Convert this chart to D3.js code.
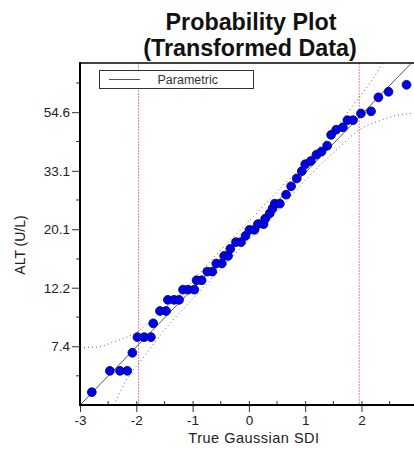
<!DOCTYPE html>
<html>
<head>
<meta charset="utf-8">
<script src="https://cdn.jsdelivr.net/npm/d3@7"></script>
<style>
  body { margin: 0; background: #fff; }
  text { font-family: "Liberation Sans", Arial, sans-serif; }
</style>
</head>
<body>
<div id="chart"></div>
<script>
// observed points: x = true gaussian SDI, y = ALT (U/L)
const sdi = [-2.79, -2.47, -2.29, -2.16, -2.07, -1.98, -1.86, -1.74, -1.70, -1.58,
  -1.47, -1.44, -1.33, -1.24, -1.17, -1.08, -0.97, -0.93, -0.84, -0.74,
  -0.65, -0.58, -0.48, -0.44, -0.37, -0.33, -0.23, -0.14, -0.06, 0.01,
  0.10, 0.16, 0.26, 0.29, 0.37, 0.42, 0.46, 0.55, 0.66, 0.75,
  0.85, 0.94, 1.00, 1.10, 1.20, 1.29, 1.39, 1.46, 1.55, 1.67,
  1.75, 1.85, 1.99, 2.17, 2.30, 2.48, 2.80];
const alt = [5, 6, 6, 6, 7, 8, 8, 8, 9, 10,
  10, 11, 11, 11, 12, 12, 12, 13, 13, 14,
  14, 15, 15, 16, 16, 17, 18, 18, 19, 20,
  20, 21, 21, 22, 23, 24, 25, 25, 27, 29,
  31, 33, 35, 36, 38, 39, 41, 45, 47, 48,
  51, 51, 54, 55, 62, 65, 69];

// parametric fit line
const fitSdi = [-3, 3];
const fitAlt = [4.48, 87.9];

// confidence band (dotted curves)
const upperSdi = [-3.0, -2.7, -2.4, -2.0, -1.6, -1.1, -0.55, 0, 0.5, 1.0, 1.5, 1.85, 2.18, 2.4];
const upperAlt = [7.32, 7.35, 7.69, 8.33, 9.78, 12.3, 16.4, 21.5, 27.7, 35.5, 46.5, 58.0, 71.5, 84.8];
const lowerSdi = [-2.4, -2.18, -1.85, -1.5, -1.0, -0.5, 0, 0.55, 1.1, 1.6, 2.0, 2.4, 2.7, 3.0];
const lowerAlt = [4.48, 5.53, 6.82, 8.50, 11.1, 14.3, 18.4, 24.0, 32.1, 40.4, 47.5, 51.4, 53.5, 54.1];

const refSdi = [-1.96, 1.96];

const xTicks = [-3, -2, -1, 0, 1, 2];
const xMinor = [-2.5, -1.5, -0.5, 0.5, 1.5, 2.5];
const yTicks = [7.4, 12.2, 20.1, 33.1, 54.6];
const yMinor = [5.75, 9.49, 15.6, 25.8, 42.5, 70.1];

const width = 414, height = 449;
const plotLeft = 80, plotTop = 63, plotBottom = 405;

const svg = d3.select('#chart').append('svg')
  .attr('width', width)
  .attr('height', height);

const x = d3.scaleLinear().domain([-3, 3]).range([plotLeft, plotLeft + 6 * 56.3]);
const y = d3.scaleLog().domain([4.4817, 83.1]).range([plotBottom, plotTop]);

svg.append('clipPath').attr('id', 'plot')
  .append('rect')
  .attr('x', plotLeft).attr('y', plotTop)
  .attr('width', width - plotLeft).attr('height', plotBottom - plotTop);

const plot = svg.append('g').attr('clip-path', 'url(#plot)');

// reference lines at +-1.96
plot.selectAll('.ref')
  .data(refSdi)
  .enter()
  .append('line')
  .attr('x1', d => x(d)).attr('x2', d => x(d))
  .attr('y1', plotTop).attr('y2', plotBottom)
  .attr('stroke', '#f08080')
  .attr('stroke-width', 1)
  .attr('stroke-dasharray', '2,1');

const line = d3.line()
  .x(d => x(d[0]))
  .y(d => y(d[1]))
  .curve(d3.curveMonotoneX);

plot.append('path')
  .datum(d3.zip(upperSdi, upperAlt))
  .attr('d', line)
  .attr('fill', 'none')
  .attr('stroke', '#666')
  .attr('stroke-dasharray', '1,3');

plot.append('path')
  .datum(d3.zip(lowerSdi, lowerAlt))
  .attr('d', line)
  .attr('fill', 'none')
  .attr('stroke', '#666')
  .attr('stroke-dasharray', '1,3');

plot.append('path')
  .datum(d3.zip(fitSdi, fitAlt))
  .attr('d', d3.line().x(d => x(d[0])).y(d => y(d[1])))
  .attr('fill', 'none')
  .attr('stroke', '#555')
  .attr('stroke-width', 1);

plot.selectAll('.pt')
  .data(d3.zip(sdi, alt))
  .enter()
  .append('circle')
  .attr('cx', d => x(d[0]))
  .attr('cy', d => y(d[1]))
  .attr('r', 4.4)
  .attr('fill', '#0000f0')
  .attr('stroke', '#000050')
  .attr('stroke-width', 0.8);

// axes
const xAxis = d3.axisBottom(x).tickValues(xTicks).tickSize(7).tickPadding(3).tickFormat(d => String(d));
const gx = svg.append('g')
  .attr('transform', `translate(0, ${plotBottom})`)
  .call(xAxis);
gx.select('.domain').remove();
gx.selectAll('.tick line').attr('y1', -4).attr('stroke', '#333');
gx.selectAll('.tick text').attr('font-size', 13.5).attr('fill', '#222')
  .attr('font-family', '"Liberation Sans", Arial, sans-serif');

svg.selectAll('.xminor')
  .data(xMinor)
  .enter()
  .append('line')
  .attr('x1', d => x(d)).attr('x2', d => x(d))
  .attr('y1', plotBottom - 4).attr('y2', plotBottom)
  .attr('stroke', '#333');

const yAxis = d3.axisLeft(y).tickValues(yTicks).tickSize(8).tickPadding(2).tickFormat(d3.format('.1f'));
const gy = svg.append('g')
  .attr('transform', `translate(${plotLeft}, 0)`)
  .call(yAxis);
gy.select('.domain').remove();
gy.selectAll('.tick line').attr('stroke', '#333');
gy.selectAll('.tick text').attr('font-size', 13.5).attr('fill', '#222')
  .attr('font-family', '"Liberation Sans", Arial, sans-serif');

svg.selectAll('.yminor')
  .data(yMinor)
  .enter()
  .append('line')
  .attr('x1', plotLeft - 4).attr('x2', plotLeft)
  .attr('y1', d => y(d)).attr('y2', d => y(d))
  .attr('stroke', '#333');

// frame lines
svg.append('line').attr('x1', plotLeft).attr('x2', plotLeft).attr('y1', plotTop - 1).attr('y2', plotBottom + 1)
  .attr('stroke', '#000').attr('stroke-width', 2);
svg.append('line').attr('x1', plotLeft - 1).attr('x2', width).attr('y1', plotBottom).attr('y2', plotBottom)
  .attr('stroke', '#000').attr('stroke-width', 2);
svg.append('line').attr('x1', plotLeft).attr('x2', width).attr('y1', plotTop).attr('y2', plotTop)
  .attr('stroke', '#000').attr('stroke-width', 1.5);

// legend
const legend = svg.append('g');
legend.append('rect')
  .attr('x', 99.5).attr('y', 70.5)
  .attr('width', 154).attr('height', 18)
  .attr('fill', '#fff')
  .attr('stroke', '#333');
legend.append('line')
  .attr('x1', 109).attr('x2', 140)
  .attr('y1', 79.5).attr('y2', 79.5)
  .attr('stroke', '#555');
legend.append('text')
  .attr('x', 157.5).attr('y', 84)
  .attr('font-size', 12.5)
  .attr('fill', '#333')
  .text('Parametric');

// titles
svg.append('text')
  .attr('x', 251).attr('y', 29.5)
  .attr('text-anchor', 'middle')
  .attr('font-size', 23.3)
  .attr('font-weight', 'bold')
  .attr('fill', '#111')
  .text('Probability Plot');
svg.append('text')
  .attr('x', 250).attr('y', 55.5)
  .attr('text-anchor', 'middle')
  .attr('font-size', 23.3)
  .attr('font-weight', 'bold')
  .attr('fill', '#111')
  .text('(Transformed Data)');

svg.append('text')
  .attr('x', 254).attr('y', 443)
  .attr('text-anchor', 'middle')
  .attr('font-size', 14.5)
  .attr('letter-spacing', 0.5)
  .attr('fill', '#222')
  .text('True Gaussian SDI');

svg.append('text')
  .attr('transform', 'translate(25, 245) rotate(-90)')
  .attr('text-anchor', 'middle')
  .attr('font-size', 14)
  .attr('fill', '#222')
  .text('ALT (U/L)');
</script>
</body>
</html>
